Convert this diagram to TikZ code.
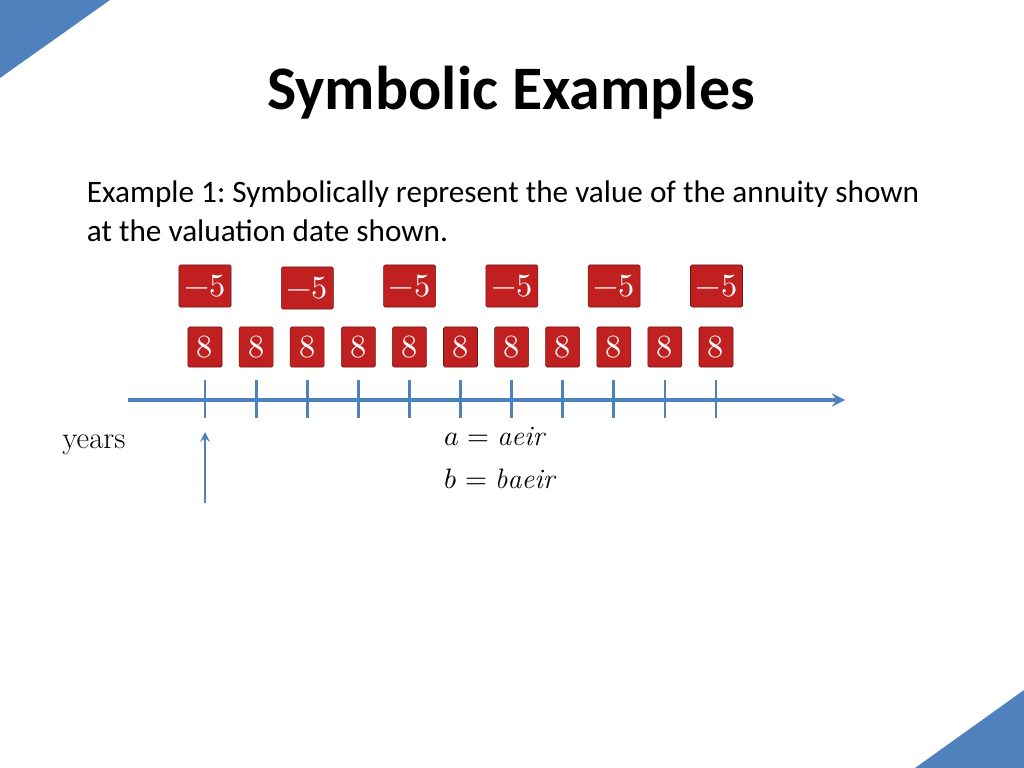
\documentclass[tikz,border=0pt]{standalone}
\usepackage{fontspec}
\usepackage{unicode-math}
\setmathfont{Latin Modern Math}
\newfontfamily\carlito{Carlito}
\usetikzlibrary{calc}
\definecolor{axisblue}{RGB}{79,129,189}
\definecolor{boxred}{RGB}{192,32,32}
\newcommand\boxtext[1]{{\fontsize{23}{23}\selectfont$#1$}}
\tikzset{
  cash/.style={draw=boxred!60!black, fill=boxred, text=white, rounded corners=1pt,
    minimum width=0.85cm, minimum height=1cm, inner sep=1pt},
  negcash/.style={cash, minimum width=1.3cm, minimum height=1.05cm},
  tick/.style={draw=axisblue, line width=2pt}
}
\frenchspacing
\begin{document}
\begin{tikzpicture}[x=0.025cm, y=-0.025cm]
\useasboundingbox (0,0) rectangle (1024,768);
%the corners
\fill[axisblue] (0,0) -- (110,0) -- (0,78) -- cycle;
\fill[axisblue] (1024,690) -- (1024,768) -- (915,768) -- cycle;

%the title and text
\node (title) at (511,93) {\carlito\bfseries\fontsize{44}{44}\selectfont Symbolic Examples};
\node[anchor=west, align=left, font=\carlito\fontsize{22.2}{28}\selectfont] (task) at (82,211)
  {Example 1: Symbolically represent the value of the annuity shown\\at the valuation date shown.};

%the axis
\coordinate (start) at (128,400);
\coordinate (end) at (845,400);
\draw[axisblue, line width=3pt, -stealth] (start) -- (end);
\foreach \i in {0,...,10} {
  \coordinate (t\i) at (205+51.1*\i,400);
  \draw[tick] ($(t\i)+(0,-20)$) -- ($(t\i)+(0,18)$);
  \node[cash] (pay\i) at (205+51.1*\i,347) {\boxtext{8}};
}
\foreach \i/\y in {0/286,1/288,2/286,3/286,4/286,5/286} {
  \node[negcash] (neg\i) at (205+102.3*\i,\y) {\boxtext{-5}};
}

%the valuation date
\coordinate (base) at (205,503);
\coordinate (tip) at (205,432);
\draw[axisblue, line width=2pt, -stealth] (base) -- (tip);

\node (years) at (94,445) {\fontsize{22}{22}\selectfont years};
\node[anchor=west] (adef) at (440,437) {\fontsize{20}{20}\selectfont$a = \mathit{aeir}$};
\node[anchor=west] (bdef) at (440,479) {\fontsize{20}{20}\selectfont$b = \mathit{baeir}$};
\end{tikzpicture}
\end{document}
